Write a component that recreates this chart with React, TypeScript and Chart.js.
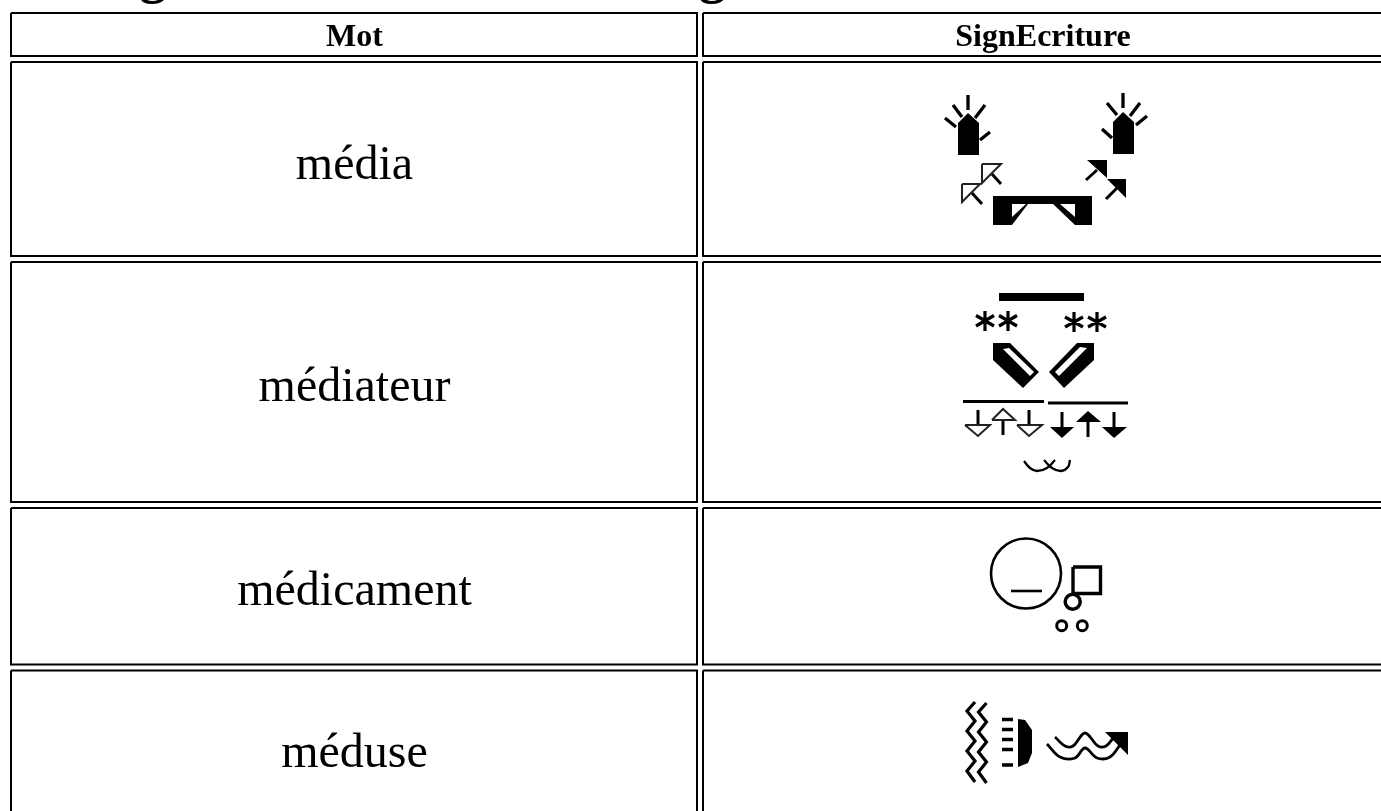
import React, { useEffect, useRef } from "react";
import { Chart, registerables } from "chart.js";
Chart.register(...registerables);

type P = [number, number] | null;
const W = 1381, H = 811;

const COL_EDGES = [[11, 697], [703, 1400]];
const ROW_EDGES = [[13, 56], [62, 256], [262, 502], [508, 664.5], [670.5, 830]];
const HEADERS = ["Mot", "SignEcriture"];
const HEADER_X = [354.5, 1043];
const HEADER_BASE = 46;
const WORDS = ["média", "médiateur", "médicament", "méduse"];
const WORD_X = 354.5;
const WORD_BASE = [179, 401, 605, 767];
const TITLE_MARKS = ["g", "g", ","];
const TITLE_X = [153, 712.5, 894];
const TITLE_BASE = [-8, -8, -10];

const SOLID_SHAPES: P[][] = [
  [[958,155],[979,155],[979,123],[968,113],[958,123],[958,155]],
  [[1113,154],[1134,154],[1134,122],[1123,112],[1113,122],[1113,154]],
  [[993,196],[1092,196],[1092,225],[1075,225],[1053,204],[1028,204],[1012,225],[993,225],[993,196]],
  [[1087,160],[1107,160],[1107,178],[1087,160]],
  [[1107,179],[1126,179],[1126,198],[1107,179]],
  [[999,293],[1084,293],[1084,301],[999,301],[999,293]],
  [[993,343],[1010,343],[1039,372],[1023,388],[993,360],[993,343]],
  [[1094,343],[1077,343],[1049,372],[1064,388],[1094,360],[1094,343]],
  [[1050,427],[1074,427],[1062,438],[1050,427]],
  [[1076,422],[1101,422],[1088,411],[1076,422]],
  [[1102,427],[1127,427],[1114,438],[1102,427]],
  [[1018,719],[1025,720],[1032,730],[1032,753],[1028,763],[1018,767],[1018,719]],
  [[1105,732],[1128,732],[1128,755],[1105,732]],
];
const WHITE_SHAPES: P[][] = [
  [[1012,204],[1026,204],[1012,217],[1012,204]],
  [[1060,204],[1075,204],[1075,217],[1060,204]],
  [[1003,349],[1009,348],[1034,372],[1030,376],[1003,349]],
  [[1087,348],[1080,347],[1055,372],[1059,376],[1087,348]],
];
const OPEN_SHAPES: P[][] = [
  [[982,164],[1001,164],[982,183],[982,164]],
  [[962,184],[980,184],[962,202],[962,184]],
  [[965,425],[990,425],[978,436],[965,425]],
  [[992,420],[1015,420],[1003,409],[992,420]],
  [[1017,425],[1042,425],[1029,436],[1017,425]],
];
const RAYS: P[] = [
  [968,95],[968,110],null,[953,105],[962,117],null,[985,105],[975,118],null,[945,118],[956,127],null,[990,132],[980,140],null,
  [1123,93],[1123,108],null,[1107,103],[1117,115],null,[1140,103],[1130,116],null,[1147,116],[1136,125],null,[1102,129],[1112,138],null,
];
const ARROW_STEMS: P[] = [
  [992,174],[1001,184],null,[972,193],[982,204],null,[1097,170],[1086,180],null,[1117,188],[1106,199],null,
  [978,410],[978,425],null,[1003,420],[1003,435],null,[1029,410],[1029,425],null,
  [1062,412],[1062,427],null,[1088,422],[1088,437],null,[1114,412],[1114,427],null,
];
const CONTACT_BARS: P[] = [[963,401.5],[1044,401.5],null,[1048,403],[1128,403]];
const STARS: P[] = [
  [985,311],[985,331],null,[976,315.5],[994,326],null,[994,315.5],[976,326],null,
  [1008,311],[1008,331],null,[999,315.5],[1017,326],null,[1017,315.5],[999,326],null,
  [1074,312],[1074,332],null,[1065,317],[1083,327],null,[1083,317],[1065,327],null,
  [1097,312],[1097,332],null,[1088,317],[1106,327],null,[1106,317],[1088,327],
];
const ARCS: P[][] = [
  [[1024,461],[1030,468],[1037,471],[1047,468],[1055,460]],
  [[1044,460],[1052,468],[1061,471],[1068,467],[1070,460]],
];
const MOUTH_LINE: P[] = [[1011,591],[1042,591]];
const SQUARE: P[] = [[1073,567],[1100.5,567],[1100.5,593.5],[1073,593.5],[1073,567]];
const RINGS: { x: number; y: number; r: number; w: number }[] = [
  { x: 1026, y: 573.5, r: 35, w: 2.6 },
  { x: 1072.7, y: 601.7, r: 7.5, w: 3.5 },
  { x: 1061.7, y: 625.7, r: 5, w: 3 },
  { x: 1082.3, y: 625.7, r: 5, w: 3 },
];
const ZIGZAG_RIGHT: P[] = [[986.5,703],[978.5,712],[986.5,722],[978.5,732],[986.5,742],[978.5,752],[986.5,762],[978.5,772],[986.5,783]];
const ZIGZAG_LEFT: P[] = [[975,702],[967,711],[975,721],[967,731],[975,741],[967,751],[975,761],[967,771],[975,782]];
const DASHES: P[] = [[1002,719.5],[1013,719.5],null,[1002,729.5],[1013,729.5],null,[1002,739.5],[1013,739.5],null,[1002,749.5],[1013,749.5],null,[1002,765],[1013,765]];
const WAVES: P[][] = [
  [[1055,737],[1065,746],[1073,746],[1085,733],[1098,746],[1106,746],[1114,737]],
  [[1047,744],[1060,757],[1075,758],[1085,748],[1097,758],[1110,757],[1120,745]],
];

export default function App() {
  const ref = useRef<HTMLCanvasElement>(null);
  useEffect(() => {
    document.body.style.margin = "0";
    const grid: P[] = [];
    for (const [x0, x1] of COL_EDGES) for (const [y0, y1] of ROW_EDGES)
      grid.push([x0, y0], [x1, y0], [x1, y1], [x0, y1], [x0, y0], null);
    const line = (data: P[], w: number, extra: any = {}) => ({
      data: data.map((p) => (p ? { x: p[0], y: p[1] } : { x: NaN, y: NaN })),
      showLine: true, pointRadius: 0, borderColor: "#000", borderWidth: w, spanGaps: false, tension: 0, fill: false, ...extra,
    });
    const shape = (data: P[], color: string, order: number) =>
      line(data, 0, { backgroundColor: color, fill: "shape", borderColor: color, order });
    const ds: any[] = [
      line(grid, 2),
      ...SOLID_SHAPES.map((p) => shape(p, "#000", 2)),
      ...WHITE_SHAPES.map((p) => shape(p, "#fff", 1)),
      ...OPEN_SHAPES.map((p) => line(p, 2, { borderColor: "#222" })),
      line(RAYS, 3.3),
      line(ARROW_STEMS, 3),
      line(CONTACT_BARS, 3.2),
      line(STARS, 3.2),
      ...ARCS.map((p) => line(p, 2.3, { tension: 0.4 })),
      line(MOUTH_LINE, 2.6),
      line(SQUARE, 3.4),
      line(ZIGZAG_RIGHT, 3.2),
      line(ZIGZAG_LEFT, 3.2),
      line(DASHES, 3.4),
      ...WAVES.map((p) => line(p, 2.8, { tension: 0.35 })),
      ...RINGS.map((k) => ({
        data: [{ x: k.x, y: k.y }], showLine: false, pointRadius: k.r, pointBorderWidth: k.w,
        pointBorderColor: "#000", pointBackgroundColor: "rgba(0,0,0,0)",
      })),
    ];
    const plugin = {
      id: "labels",
      afterDatasetsDraw(c: any) {
        const { ctx, scales: { x, y } } = c;
        ctx.save();
        ctx.textAlign = "center";
        ctx.textBaseline = "alphabetic";
        ctx.fillStyle = "#000";
        ctx.font = "bold 32px 'Liberation Serif'";
        HEADERS.forEach((t, i) => ctx.fillText(t, x.getPixelForValue(HEADER_X[i]), y.getPixelForValue(HEADER_BASE)));
        ctx.font = "48px 'Liberation Serif'";
        WORDS.forEach((t, i) => ctx.fillText(t, x.getPixelForValue(WORD_X), y.getPixelForValue(WORD_BASE[i])));
        ctx.font = "bold 54px 'Liberation Serif'";
        TITLE_MARKS.forEach((t, i) => ctx.fillText(t, x.getPixelForValue(TITLE_X[i]), y.getPixelForValue(TITLE_BASE[i])));
        ctx.restore();
      },
    };
    const chart = new Chart(ref.current!, {
      type: "scatter",
      data: { datasets: ds },
      options: {
        animation: false, responsive: false,
        layout: { padding: 0, autoPadding: false },
        plugins: { legend: { display: false }, tooltip: { enabled: false } },
        scales: {
          x: { type: "linear", min: 0, max: W, display: false },
          y: { type: "linear", min: 0, max: H, reverse: true, display: false },
        },
      },
      plugins: [plugin],
    });
    return () => chart.destroy();
  }, []);
  return <canvas ref={ref} width={W} height={H} style={{ display: "block", background: "#fff" }} />;
}
